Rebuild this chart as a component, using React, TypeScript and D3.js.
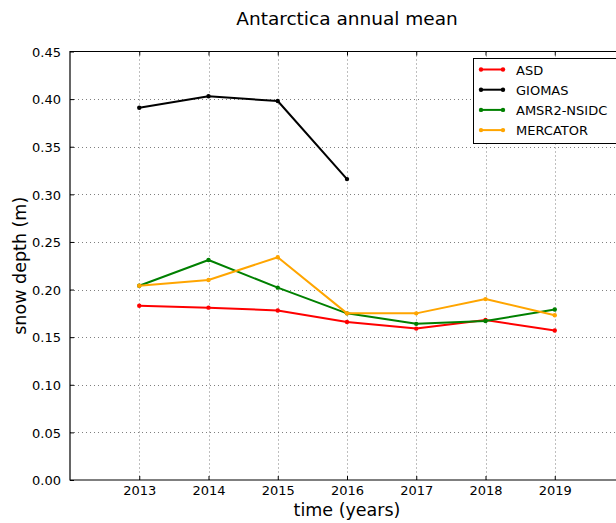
import React, { useEffect, useRef } from "react";
import * as d3 from "d3";

const years = [2013, 2014, 2015, 2016, 2017, 2018, 2019];
const asd = [0.183, 0.181, 0.178, 0.166, 0.159, 0.168, 0.157];
const giomas = [0.391, 0.403, 0.398, 0.316, null, null, null];
const amsr2 = [0.204, 0.231, 0.202, 0.175, 0.164, 0.167, 0.179];
const mercator = [0.204, 0.21, 0.234, 0.175, 0.175, 0.19, 0.173];
const yTicks = [0, 0.05, 0.1, 0.15, 0.2, 0.25, 0.3, 0.35, 0.4, 0.45];

const seriesNames = ["ASD", "GIOMAS", "AMSR2-NSIDC", "MERCATOR"];
const seriesColors = ["#ff0000", "#000000", "#008000", "#ffa500"];

const width = 616;
const height = 523;
const font = "DejaVu Sans, sans-serif";

const App: React.FC = () => {
  const svgRef = useRef<SVGSVGElement>(null);

  useEffect(() => {
    if (!svgRef.current) return;
    const svg = d3.select(svgRef.current);
    svg.selectAll("*").remove();

    const left = 70;
    const right = 624;
    const top = 51.5;
    const bottom = 480;

    const x = d3.scaleLinear().domain([2012, 2020]).range([left, right]);
    const y = d3.scaleLinear().domain([0, 0.45]).range([bottom, top]);

    svg.append("rect").attr("width", width).attr("height", height).attr("fill", "#fff");

    // grid
    const grid = svg.append("g").attr("stroke", "#000").attr("stroke-opacity", 0.5)
      .attr("stroke-width", 1).attr("stroke-dasharray", "1,3");
    grid.selectAll("line.gx").data(years).join("line")
      .attr("x1", (d) => Math.round(x(d)) + 0.5).attr("x2", (d) => Math.round(x(d)) + 0.5)
      .attr("y1", top).attr("y2", bottom);
    grid.selectAll("line.gy").data(yTicks.slice(1, -1)).join("line")
      .attr("class", "gy")
      .attr("x1", left).attr("x2", right)
      .attr("y1", (d) => Math.round(y(d)) + 0.5).attr("y2", (d) => Math.round(y(d)) + 0.5);

    // axes (ticks inside, classic style)
    const xAxis = d3.axisBottom(x).tickValues(years).tickFormat(d3.format("d"))
      .tickSizeInner(-4).tickSizeOuter(0).tickPadding(6);
    const gx = svg.append("g").attr("transform", `translate(0,${bottom})`).call(xAxis);
    const gxTop = svg.append("g").attr("transform", `translate(0,${top})`)
      .call(d3.axisTop(x).tickValues(years).tickSizeInner(-4).tickSizeOuter(0).tickFormat(() => ""));

    const yAxis = d3.axisLeft(y).tickValues(yTicks).tickFormat(d3.format(".2f"))
      .tickSizeInner(-4).tickSizeOuter(0).tickPadding(9);
    const gy = svg.append("g").attr("transform", `translate(${left},0)`).call(yAxis);

    [gx, gxTop, gy].forEach((g) => {
      g.select(".domain").remove();
      g.selectAll("line").attr("stroke", "#000");
      g.selectAll("text").attr("font-family", font).attr("font-size", 13).attr("fill", "#000");
    });
    gy.selectAll("text").attr("dy", "0.36em");

    // spines
    svg.append("path")
      .attr("d", `M${right},${top}H${left}V${bottom}H${right}`)
      .attr("fill", "none").attr("stroke", "#000").attr("stroke-width", 1.2);

    // series
    const allSeries = [asd, giomas, amsr2, mercator];
    const line = d3.line<[number, number | null]>()
      .defined((d) => d[1] !== null)
      .x((d) => x(d[0]))
      .y((d) => y(d[1] as number));

    allSeries.forEach((vals, i) => {
      const pts = years.map((yr, j) => [yr, vals[j]] as [number, number | null]);
      svg.append("path").datum(pts)
        .attr("fill", "none").attr("stroke", seriesColors[i]).attr("stroke-width", 2)
        .attr("stroke-linejoin", "round").attr("d", line);
      svg.append("g").selectAll("circle").data(pts.filter((p) => p[1] !== null)).join("circle")
        .attr("cx", (d) => x(d[0])).attr("cy", (d) => y(d[1] as number))
        .attr("r", 2.2).attr("fill", seriesColors[i]);
    });

    // legend
    const lg = svg.append("g");
    lg.append("rect").attr("x", 473.5).attr("y", 58.5).attr("width", 145).attr("height", 85)
      .attr("fill", "#fff").attr("stroke", "#000").attr("stroke-width", 1);
    seriesNames.forEach((name, i) => {
      const ry = 69.5 + i * 20.2;
      lg.append("line").attr("x1", 481).attr("x2", 503).attr("y1", ry).attr("y2", ry)
        .attr("stroke", seriesColors[i]).attr("stroke-width", 2);
      [481, 503].forEach((cx) =>
        lg.append("circle").attr("cx", cx).attr("cy", ry).attr("r", 2.2).attr("fill", seriesColors[i])
      );
      lg.append("text").attr("x", 516).attr("y", ry + 5).text(name)
        .attr("font-family", font).attr("font-size", 13).attr("fill", "#000");
    });

    // title and labels
    svg.append("text").attr("x", (left + right) / 2).attr("y", 25)
      .attr("text-anchor", "middle").attr("font-family", font).attr("font-size", 18.5)
      .text("Antarctica annual mean");
    svg.append("text").attr("x", (left + right) / 2).attr("y", 516)
      .attr("text-anchor", "middle").attr("font-family", font).attr("font-size", 17.5)
      .text("time (years)");
    svg.append("text")
      .attr("transform", `translate(26,${(top + bottom) / 2}) rotate(-90)`)
      .attr("text-anchor", "middle").attr("font-family", font).attr("font-size", 17.5)
      .text("snow depth (m)");
  }, []);

  return (
    <svg
      ref={svgRef}
      width={width}
      height={height}
      style={{ position: "absolute", left: 0, top: 0 }}
    />
  );
};

export default App;
